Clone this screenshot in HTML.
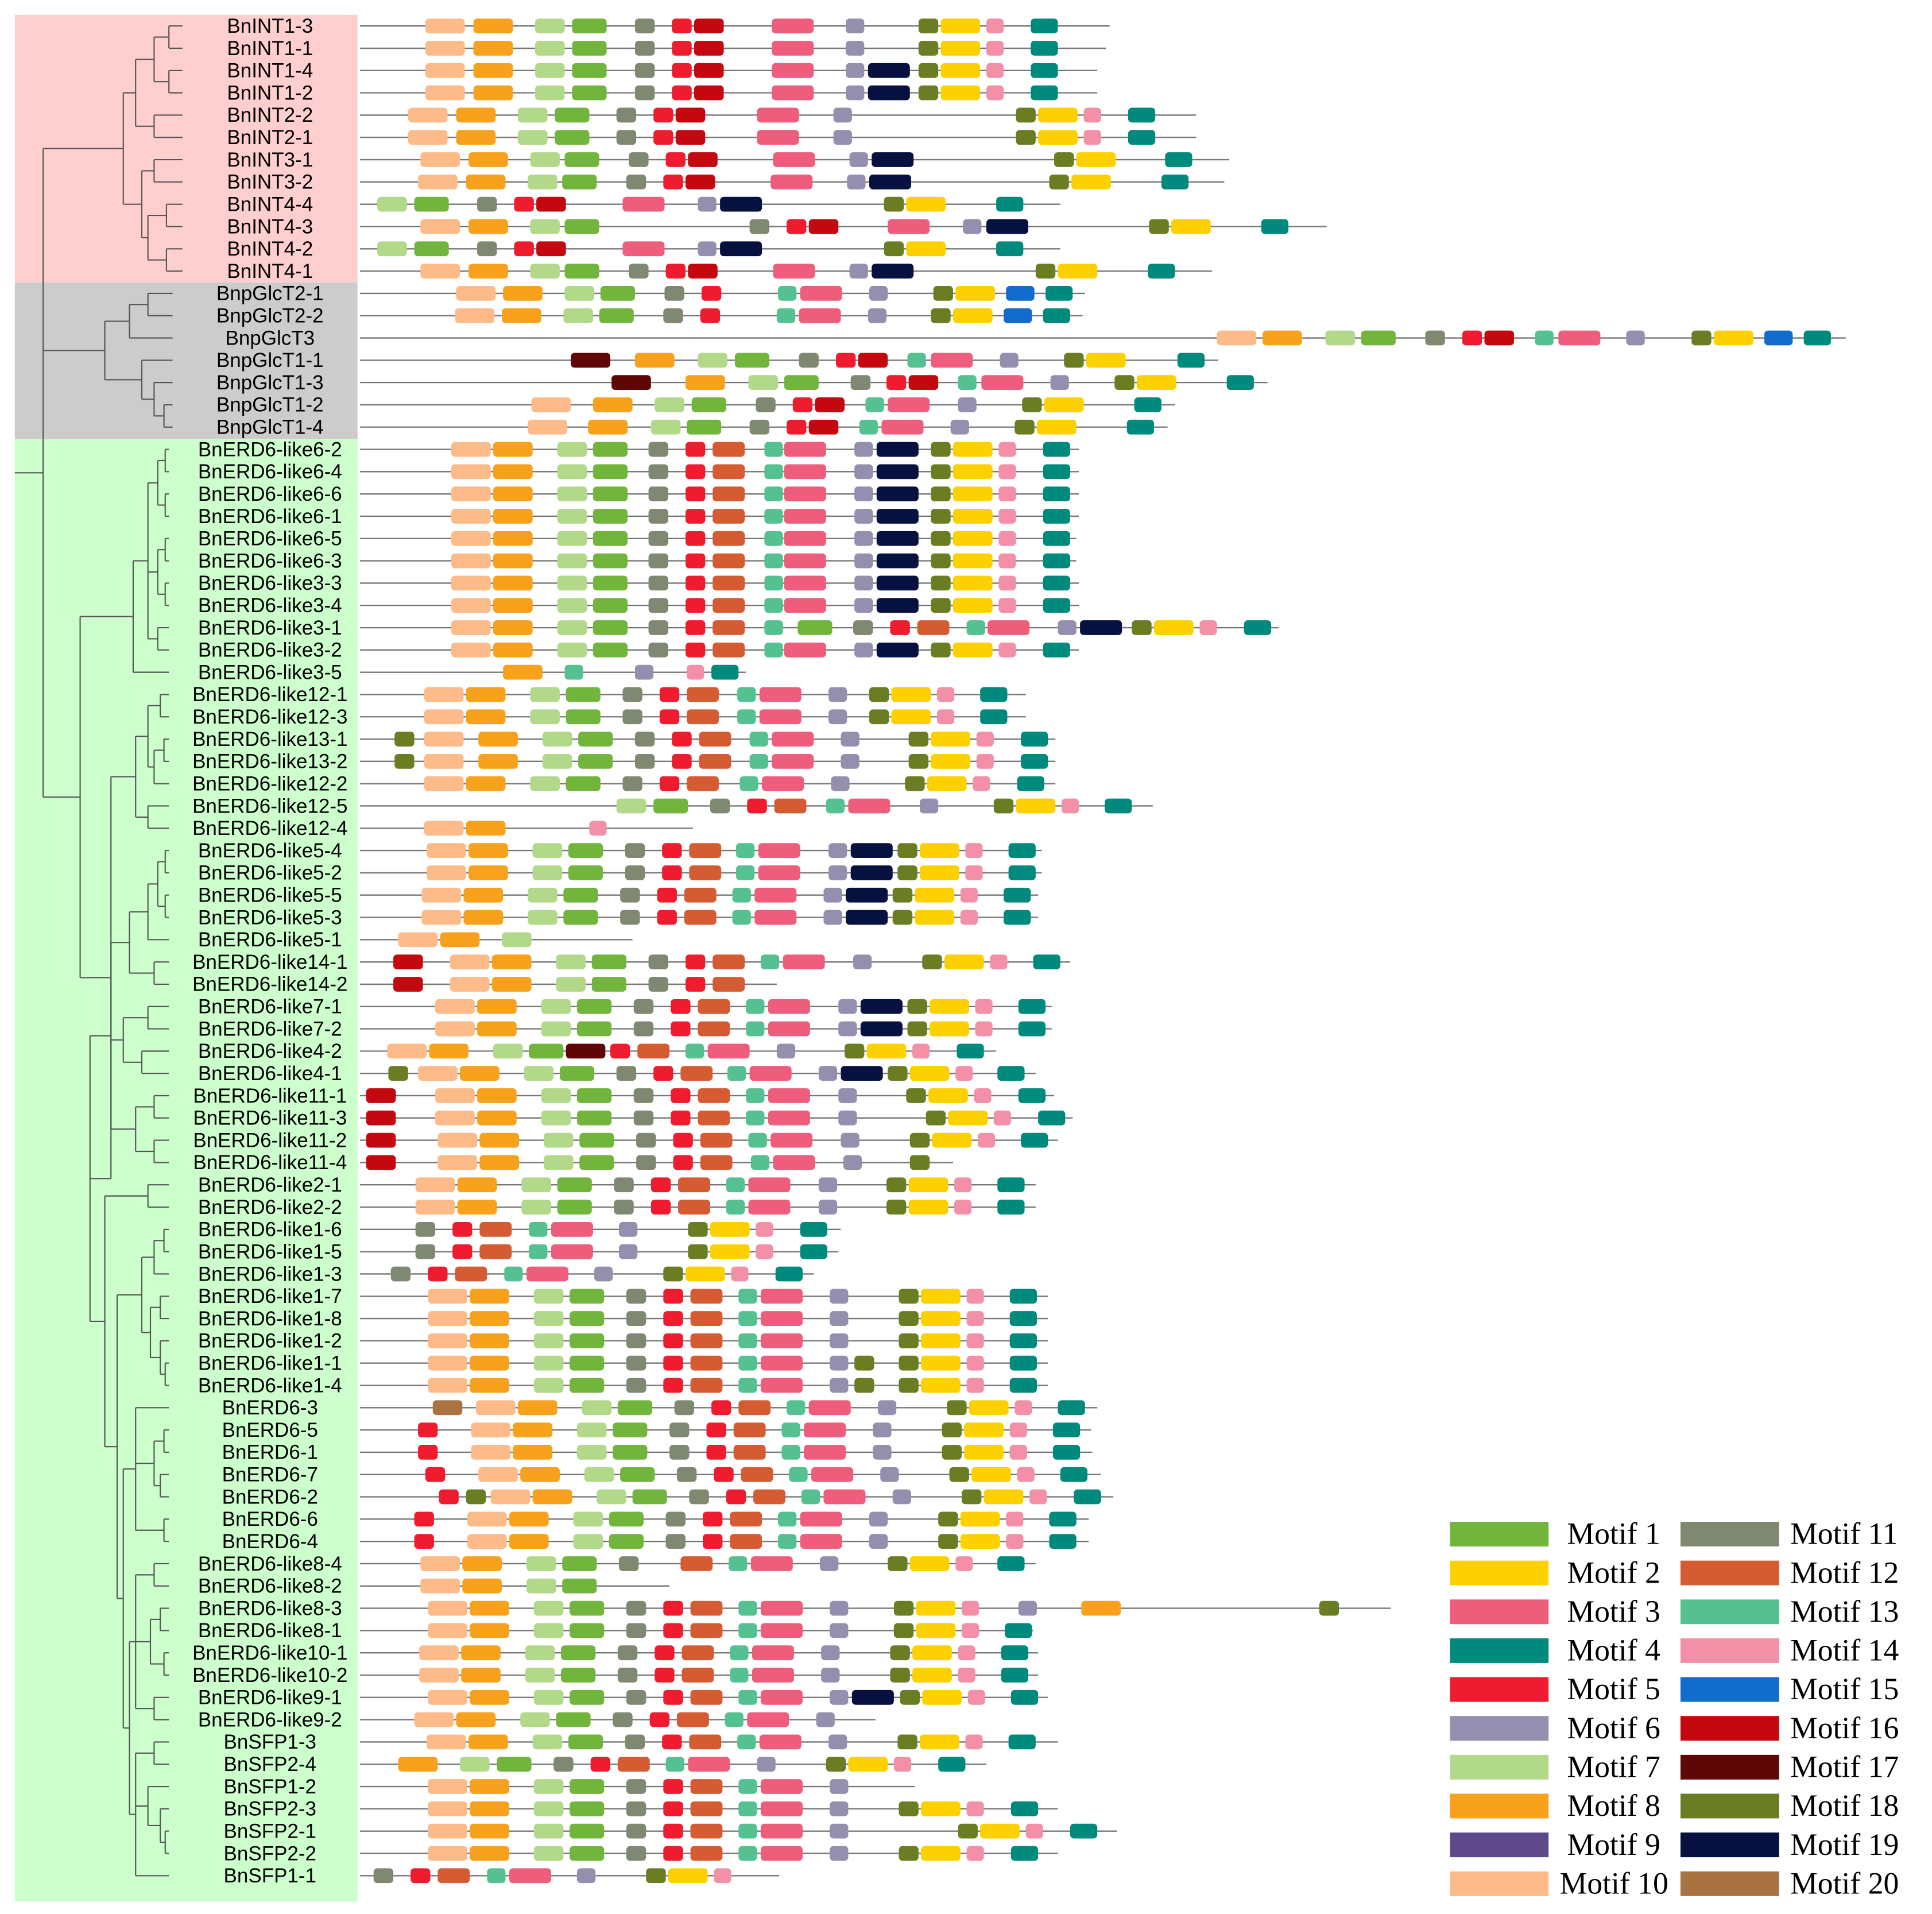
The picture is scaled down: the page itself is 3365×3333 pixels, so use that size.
<!DOCTYPE html>
<html><head><meta charset="utf-8">
<style>
html,body{margin:0;padding:0;background:#fff}
svg{display:block}
text{font-family:"Liberation Sans",sans-serif}
.lg{font-family:"Liberation Serif",serif;font-size:25px}
</style></head>
<body>
<svg id="chart" width="3365" height="3333" viewBox="0 0 1567 1552" xmlns="http://www.w3.org/2000/svg">
<rect x="12" y="12" width="278" height="217" fill="#ffcfcf"/>
<rect x="12" y="229" width="278" height="127" fill="#cccccc"/>
<rect x="12" y="356" width="278" height="1186" fill="#ccffcc"/>
<g id="tree"></g>
<g id="rows"></g>
<g id="legend"></g>
</svg>
<script>
const names=["BnINT1-3","BnINT1-1","BnINT1-4","BnINT1-2","BnINT2-2","BnINT2-1","BnINT3-1","BnINT3-2","BnINT4-4","BnINT4-3","BnINT4-2","BnINT4-1",
"BnpGlcT2-1","BnpGlcT2-2","BnpGlcT3","BnpGlcT1-1","BnpGlcT1-3","BnpGlcT1-2","BnpGlcT1-4",
"BnERD6-like6-2","BnERD6-like6-4","BnERD6-like6-6","BnERD6-like6-1","BnERD6-like6-5","BnERD6-like6-3","BnERD6-like3-3","BnERD6-like3-4","BnERD6-like3-1","BnERD6-like3-2","BnERD6-like3-5",
"BnERD6-like12-1","BnERD6-like12-3","BnERD6-like13-1","BnERD6-like13-2","BnERD6-like12-2","BnERD6-like12-5","BnERD6-like12-4",
"BnERD6-like5-4","BnERD6-like5-2","BnERD6-like5-5","BnERD6-like5-3","BnERD6-like5-1","BnERD6-like14-1","BnERD6-like14-2","BnERD6-like7-1","BnERD6-like7-2","BnERD6-like4-2","BnERD6-like4-1",
"BnERD6-like11-1","BnERD6-like11-3","BnERD6-like11-2","BnERD6-like11-4","BnERD6-like2-1","BnERD6-like2-2",
"BnERD6-like1-6","BnERD6-like1-5","BnERD6-like1-3","BnERD6-like1-7","BnERD6-like1-8","BnERD6-like1-2","BnERD6-like1-1","BnERD6-like1-4",
"BnERD6-3","BnERD6-5","BnERD6-1","BnERD6-7","BnERD6-2","BnERD6-6","BnERD6-4",
"BnERD6-like8-4","BnERD6-like8-2","BnERD6-like8-3","BnERD6-like8-1","BnERD6-like10-1","BnERD6-like10-2","BnERD6-like9-1","BnERD6-like9-2",
"BnSFP1-3","BnSFP2-4","BnSFP1-2","BnSFP2-3","BnSFP2-1","BnSFP2-2","BnSFP1-1"];
const rowEnds=[900,897,890,890,970,970,997,993,860,1076,860,983,880,878,1497,988,1028,953,947,
875,875,875,875,873,873,875,875,1037,875,605,832,832,856,856,856,935,562,845,845,842,842,513,868,630,853,853,808,840,855,870,858,773,840,840,
682,680,660,850,850,850,850,850,890,885,886,893,903,883,883,840,543,1128,838,842,842,850,710,858,800,742,858,906,858,632];
const A="10@345 8@384 7@434 1@464 11@515 5@545 16@563 3@626 6@686";
const E6="10@366 8@400 7@452 1@481 11@526 5@556 12@578 13@620 3@636 6@693 19@711 18@755 2@773 14@810 4@846";
const L1="10@347 8@381 7@433 1@462 11@508 5@538 12@560 13@599 3@617 6@673";
const rowMotifs=[
A+" 18@745 2@763 14@800 4@836",A+" 18@745 2@763 14@800 4@836",A+" 19@704 18@745 2@763 14@800 4@836",A+" 19@704 18@745 2@763 14@800 4@836",
"10@331 8@370 7@420 1@450 11@500 5@530 16@548 3@614 6@676 18@824 2@842 14@879 4@915","10@331 8@370 7@420 1@450 11@500 5@530 16@548 3@614 6@676 18@824 2@842 14@879 4@915",
"10@341 8@380 7@430 1@458 11@510 5@540 16@558 3@627 6@689 19@707 18@855 2@873 4@945","10@339 8@378 7@428 1@456 11@508 5@538 16@556 3@625 6@687 19@705 18@851 2@869 4@942",
"7@306 1@336 11@387 5@417 16@435 3@505 6@566 19@584 18@717 2@735 4@808",
"10@341 8@380 7@430 1@458 11@608 5@638 16@656 3@720 6@781 19@800 18@932 2@950 4@1023",
"7@306 1@336 11@387 5@417 16@435 3@505 6@566 19@584 18@717 2@735 4@808",
"10@341 8@380 7@430 1@458 11@510 5@540 16@558 3@627 6@689 19@707 18@840 2@858 4@931",
"10@370 8@408 7@458 1@487 11@539 5@569 13@631 3@649 6@705 18@757 2@775 15@816 4@848",
"10@369 8@407 7@457 1@486 11@538 5@568 13@630 3@648 6@704 18@755 2@773 15@814 4@846",
"10@987 8@1024 7@1075 1@1104 11@1156 5@1186 16@1204 13@1245 3@1264 6@1319 18@1372 2@1390 15@1431 4@1463",
"17@463 8@515 7@566 1@596 11@648 5@678 16@696 13@736 3@755 6@811 18@863 2@881 4@955",
"17@496 8@556 7@607 1@636 11@690 5@719 16@737 13@777 3@796 6@852 18@904 2@922 4@995",
"10@431 8@481 7@531 1@561 11@613 5@643 16@661 13@702 3@720 6@777 18@829 2@847 4@920",
"10@428 8@477 7@528 1@557 11@608 5@638 16@656 13@697 3@715 6@771 18@823 2@841 4@914",
E6,E6,E6,E6,E6,E6,E6,E6,
"10@366 8@400 7@452 1@481 11@526 5@556 12@578 13@620 1@647 11@692 5@722 12@744 13@784 3@801 6@858 19@876 18@918 2@936 14@973 4@1009",
E6,
"8@408 13@458 6@515 14@557 4@577",
"10@344 8@378 7@430 1@459 11@505 5@535 12@557 13@598 3@616 6@672 18@705 2@723 14@760 4@795",
"10@344 8@378 7@430 1@459 11@505 5@535 12@557 13@598 3@616 6@672 18@705 2@723 14@760 4@795",
"18@320 10@344 8@388 7@440 1@469 11@515 5@545 12@567 13@608 3@626 6@682 18@737 2@755 14@792 4@828",
"18@320 10@344 8@388 7@440 1@469 11@515 5@545 12@567 13@608 3@626 6@682 18@737 2@755 14@792 4@828",
"10@344 8@378 7@430 1@459 11@505 5@535 12@557 13@600 3@618 6@674 18@734 2@752 14@789 4@825",
"7@500 1@530 11@576 5@606 12@628 13@670 3@688 6@746 18@806 2@824 14@861 4@896",
"10@344 8@378 14@478",
"10@346 8@380 7@432 1@461 11@507 5@537 12@559 13@597 3@615 6@672 19@690 18@728 2@746 14@783 4@818",
"10@346 8@380 7@432 1@461 11@507 5@537 12@559 13@597 3@615 6@672 19@690 18@728 2@746 14@783 4@818",
"10@342 8@376 7@428 1@457 11@503 5@533 12@555 13@594 3@612 6@668 19@686 18@724 2@742 14@779 4@814",
"10@342 8@376 7@428 1@457 11@503 5@533 12@555 13@594 3@612 6@668 19@686 18@724 2@742 14@779 4@814",
"10@323 8@357 7@407",
"16@319 10@365 8@399 7@451 1@480 11@526 5@556 12@578 13@617 3@635 6@692 18@748 2@766 14@803 4@838",
"16@319 10@365 8@399 7@451 1@480 11@526 5@556 12@578",
"10@353 8@387 7@439 1@468 11@514 5@544 12@566 13@605 3@623 6@680 19@698 18@736 2@754 14@791 4@826",
"10@353 8@387 7@439 1@468 11@514 5@544 12@566 13@605 3@623 6@680 19@698 18@736 2@754 14@791 4@826",
"10@314 8@348 7@400 1@429 17@459 5@495 12@517 13@556 3@574 6@630 18@685 2@703 14@740 4@776",
"18@315 10@339 8@373 7@425 1@454 11@500 5@530 12@552 13@590 3@608 6@664 19@682 18@720 2@738 14@775 4@809",
"16@297 10@353 8@387 7@439 1@468 11@514 5@544 12@566 13@605 3@623 6@680 18@735 2@753 14@790 4@826",
"16@297 10@353 8@387 7@439 1@468 11@514 5@544 12@566 13@605 3@623 6@680 18@751 2@769 14@806 4@842",
"16@297 10@355 8@389 7@441 1@470 11@516 5@546 12@568 13@607 3@625 6@682 18@738 2@756 14@793 4@828",
"16@297 10@355 8@389 7@441 1@470 11@516 5@546 12@568 13@609 3@627 6@684 18@738",
"10@337 8@371 7@423 1@452 11@498 5@528 12@550 13@589 3@607 6@664 18@719 2@737 14@774 4@809",
"10@337 8@371 7@423 1@452 11@498 5@528 12@550 13@589 3@607 6@664 18@719 2@737 14@774 4@809",
"11@337 5@367 12@389 13@429 3@447 6@502 18@558 2@576 14@613 4@649",
"11@337 5@367 12@389 13@429 3@447 6@502 18@558 2@576 14@613 4@649",
"11@317 5@347 12@369 13@409 3@427 6@482 18@538 2@556 14@593 4@629",
L1+" 18@729 2@747 14@784 4@819",L1+" 18@729 2@747 14@784 4@819",L1+" 18@729 2@747 14@784 4@819",
L1+" 18@693 18@729 2@747 14@784 4@819",L1+" 18@693 18@729 2@747 14@784 4@819",
"20@351 10@386 8@420 7@472 1@501 11@547 5@577 12@599 13@638 3@656 6@712 18@768 2@786 14@823 4@858",
"5@339 10@382 8@416 7@468 1@497 11@543 5@573 12@595 13@634 3@652 6@708 18@764 2@782 14@819 4@854",
"5@339 10@382 8@416 7@468 1@497 11@543 5@573 12@595 13@634 3@652 6@708 18@764 2@782 14@819 4@854",
"5@345 10@388 8@422 7@474 1@503 11@549 5@579 12@601 13@640 3@658 6@714 18@770 2@788 14@825 4@860",
"5@356 18@378 10@398 8@432 7@484 1@513 11@559 5@589 12@611 13@650 3@668 6@724 18@780 2@798 14@835 4@871",
"5@336 10@379 8@413 7@465 1@494 11@540 5@570 12@592 13@631 3@649 6@705 18@761 2@779 14@816 4@851",
"5@336 10@379 8@413 7@465 1@494 11@540 5@570 12@592 13@631 3@649 6@705 18@761 2@779 14@816 4@851",
"10@341 8@375 7@427 1@456 11@502 12@552 13@591 3@609 6@665 18@720 2@738 14@775 4@809",
"10@341 8@375 7@427 1@456",
L1+" 18@725 2@743 14@780 6@826 8@877 18@1070",
L1+" 18@725 2@743 14@780 4@815",
"10@340 8@374 7@426 1@455 11@501 5@531 12@553 13@592 3@610 6@666 18@722 2@740 14@777 4@812",
"10@340 8@374 7@426 1@455 11@501 5@531 12@553 13@592 3@610 6@666 18@722 2@740 14@777 4@812",
L1+" 19@691 18@730 2@748 14@785 4@820",
"10@336 8@370 7@422 1@451 11@497 5@527 12@549 13@588 3@606 6@662",
"10@346 8@380 7@432 1@461 11@507 5@537 12@559 13@598 3@616 6@672 18@728 2@746 14@783 4@818",
"8@323 7@373 1@403 11@449 5@479 12@501 13@540 3@558 6@614 18@670 2@688 14@725 4@761",
L1,
L1+" 18@729 2@747 14@784 4@820",
L1+" 18@777 2@795 14@832 4@868",
L1+" 18@729 2@747 14@784 4@820",
"11@303 5@333 12@355 13@395 3@413 6@468 18@524 2@542 14@579"];
const motifColors=["#72b53c","#fdd000","#ee5d7c","#008a7e","#ee1c2e","#948fae","#b2d98a","#f8a11c","#5e4a8a","#fcbb89","#7f8870","#d55b33","#55c191","#f38fa6","#116ccb","#c3090f","#5f0606","#6b7d23","#07113f","#a97341"];
const motifWidths=[28,32,34,22,16,15,24,32,30,32,16,26,15,14,23,24,32,16,34,24];
const tree=[35,
 [100,[110,[125,[137,0,1],[137,2,3]],[125,4,5]],[115,[125,6,7],[120,[135,8,9],[135,10,11]]]],
 [85,[105,[120,12,13],14],[115,15,[125,16,[133,17,18]]]],
 [65,[108,[120,[128,[134,19,20],[134,21,22]],[128,[134,23,24],[134,25,26]],[128,27,28]],29],
  [90,[110,[120,[130,30,31],[125,[133,32,33],34]],[120,35,36]],
   [73,[90,[105,[120,[128,[134,37,38],[134,39,40]],41],[125,42,43]],[100,[120,44,45],[115,46,47]],[110,[125,48,49],[125,50,51]]],
    [85,[120,52,53],[95,[115,[125,[133,54,55],56],[122,[130,57,58],[130,59,[134,60,61]]]],
     [100,[110,62,[125,[133,63,64],[130,65,66]],[133,67,68]],[105,[110,[125,69,70],[122,[130,71,72],[133,73,74]],[125,75,76]],[110,[125,77,78],[120,79,[130,80,[134,81,82]]],83]]]]]]]]];

const NS="http://www.w3.org/2000/svg";
const rowY=i=>21+i*18.072;
const leafX=i=>i<12?148:(i<19?140:137);
function mk(tag,attrs,parent){const e=document.createElementNS(NS,tag);for(const k in attrs)e.setAttribute(k,attrs[k]);parent.appendChild(e);return e;}
const T=document.getElementById('tree');
function line(x1,y1,x2,y2){const l=mk('line',{x1,y1,x2,y2,stroke:'#555','stroke-width':1},T);

}
function draw(n){
 if(typeof n==='number')return rowY(n);
 const x=n[0];const ys=[];
 for(let k=1;k<n.length;k++){const c=n[k];const y=draw(c);const cx=typeof c==='number'?leafX(c):c[0];line(x,y,cx,y);ys.push(y);}
 line(x,Math.min(...ys),x,Math.max(...ys));
 return (Math.min(...ys)+Math.max(...ys))/2;
}
const ry=draw(tree);
line(12,ry,35,ry);

const R=document.getElementById('rows');
names.forEach((nm,i)=>{
 const y=rowY(i);
 const g=mk('g',{},R);
 
 
 const t=mk('text',{x:219,y:y+5.5,'text-anchor':'middle','font-size':16.3,fill:'#000'},g);
 
 
 t.textContent=nm;
 const l=mk('line',{x1:292,y1:y,x2:rowEnds[i],y2:y,stroke:'#777','stroke-width':1.1},g);
 
 
 rowMotifs[i].split(' ').forEach(s=>{
  const [m,x]=s.split('@').map(Number);
  const r=mk('rect',{x:x,y:y-6,width:motifWidths[m-1],height:12,rx:3,fill:motifColors[m-1]},g);
  
  
 });
});

const L=document.getElementById('legend');
for(let m=1;m<=20;m++){
 const col=m<=10?0:1;const r=(m-1)%10;
 const y=1244+r*31.5;
 const rx=col?1363:1176;
 const e=mk('g',{},L);
 
 
 mk('rect',{x:rx,y:y-10,width:80,height:20,fill:motifColors[m-1]},e);
 const t=mk('text',{x:col?1452:(m==10?1265:1271),y:y+8,class:'lg',fill:'#000'},e);
 t.textContent='Motif '+m;
}
</script>
</body></html>
